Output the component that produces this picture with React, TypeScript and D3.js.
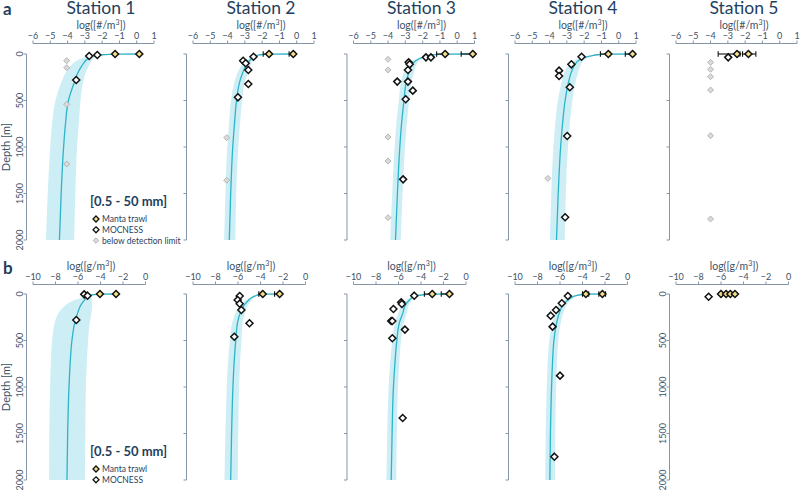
import React from "react";
import * as d3 from "d3";

const W = 800;
const H = 490;
const FONT = "Lato, 'Open Sans', sans-serif";
const NAVY = "#1f3f5e";
const AXIS = "#8496a8";
const TICKTXT = "#3c5268";
const BAND = "#cdeef5";
const LINE = "#2fb3c8";
const YELLOW = "#f4df8a";

const stationNames = ["Station 1", "Station 2", "Station 3", "Station 4", "Station 5"];
const depthTicks = [0, 500, 1000, 1500, 2000];
const countTicks = [-6, -5, -4, -3, -2, -1, 0, 1];
const massTicks = [-10, -8, -6, -4, -2, 0];

// Manta trawl: [station, log value, lower bar, upper bar]
const countManta: [number, number, number | null, number | null][] = [
  [0, 0.15, null, null], [0, -1.25, null, null],
  [1, -0.2, -0.44, -0.12], [1, -1.6, -1.94, -1.52],
  [2, 0.9, 0.23, 0.98], [2, -0.7, -1.19, -0.62],
  [3, 0.8, 0.38, 0.88], [3, -0.6, -1.06, -0.52],
  [4, -2.47, -3.56, -2.3], [4, -1.81, -2.15, -1.38],
];
// MOCNESS: [station, depth, log value]
const countMocness: [number, number, number][] = [
  [0, 11, -2.28], [0, 21, -2.75], [0, 280, -3.5],
  [1, 29, -2.5], [1, 72, -3.1], [1, 100, -2.95], [1, 172, -2.8], [1, 323, -2.8], [1, 466, -3.4],
  [2, 36, -1.81], [2, 36, -1.52], [2, 90, -2.81], [2, 111, -2.75], [2, 172, -2.85], [2, 297, -3.47],
  [2, 297, -2.85], [2, 394, -2.57], [2, 487, -2.98], [2, 1348, -3.13],
  [3, 29, -2.15], [3, 111, -2.74], [3, 179, -3.45], [3, 237, -3.45], [3, 358, -2.83], [3, 882, -2.98], [3, 1756, -3.1],
  [4, 36, -2.98],
];
// below detection limit: [station, depth, log value]
const countBelowDL: [number, number, number][] = [
  [0, 72, -4.05], [0, 147, -4.05], [0, 541, -4.05], [0, 1183, -4.05],
  [1, 900, -4.05], [1, 1358, -4.05],
  [2, 57, -4.0], [2, 172, -4.0], [2, 892, -4.0], [2, 1150, -4.0], [2, 1760, -4.0],
  [3, 1337, -4.1],
  [4, 90, -4.0], [4, 165, -4.0], [4, 244, -4.0], [4, 387, -4.0], [4, 878, -4.0], [4, 1774, -4.0],
];

const fitDepth = [0, 2, 8, 20, 40, 70, 120, 200, 300, 500, 750, 1000, 1500, 2000];
const countFitMean = [
  [0.15, -1.0, -2.0, -2.5, -2.75, -2.95, -3.15, -3.4, -3.6, -3.95, -4.12, -4.23, -4.37, -4.47],
  [-0.2, -1.4, -2.1, -2.38, -2.55, -2.72, -2.93, -3.12, -3.3, -3.48, -3.6, -3.7, -3.82, -3.9],
  [0.9, -0.5, -1.4, -1.75, -2.05, -2.38, -2.62, -2.8, -2.95, -3.08, -3.22, -3.32, -3.46, -3.57],
  [0.8, -0.6, -1.2, -1.6, -2.0, -2.32, -2.55, -2.75, -2.9, -3.1, -3.25, -3.36, -3.5, -3.6],
];
const countFitLo = [
  [0.15, -1.1, -2.2, -2.7, -3.1, -3.45, -3.8, -4.1, -4.35, -4.7, -4.9, -5.0, -5.15, -5.25],
  [-0.2, -1.45, -2.18, -2.48, -2.7, -2.92, -3.18, -3.42, -3.6, -3.8, -3.92, -4.02, -4.12, -4.2],
  [0.9, -0.55, -1.48, -1.85, -2.2, -2.58, -2.87, -3.1, -3.25, -3.38, -3.52, -3.62, -3.76, -3.88],
  [0.8, -0.65, -1.3, -1.75, -2.2, -2.6, -2.9, -3.15, -3.3, -3.52, -3.67, -3.78, -3.9, -3.98],
];
const countFitHi = [
  [0.15, -0.9, -1.85, -2.3, -2.45, -2.6, -2.75, -2.95, -3.1, -3.25, -3.35, -3.45, -3.55, -3.62],
  [-0.2, -1.35, -2.02, -2.28, -2.4, -2.52, -2.68, -2.82, -3.0, -3.16, -3.28, -3.38, -3.5, -3.55],
  [0.9, -0.45, -1.32, -1.65, -1.9, -2.18, -2.37, -2.5, -2.65, -2.78, -2.92, -3.02, -3.16, -3.27],
  [0.8, -0.55, -1.1, -1.45, -1.8, -2.04, -2.2, -2.35, -2.5, -2.68, -2.83, -2.94, -3.06, -3.12],
];

const massManta: [number, number, number | null, number | null][] = [
  [0, -2.62, null, null], [0, -4.05, null, null],
  [1, -3.8, -4.15, -3.72], [1, -2.3, -2.75, -2.22],
  [2, -3.0, -3.7, -2.9], [2, -1.47, -2.2, -1.38],
  [3, -3.7, -4.0, -3.45], [3, -2.23, -2.55, -1.95],
  [4, -6.0, null, null], [4, -5.55, null, null], [4, -5.17, null, null], [4, -4.76, null, null],
];
const massMocness: [number, number, number][] = [
  [0, 4, -5.45], [0, 18, -5.15], [0, 280, -6.15],
  [1, 21, -5.85], [1, 64, -6.03], [1, 104, -5.85], [1, 172, -5.7], [1, 315, -4.98], [1, 459, -6.33],
  [2, 18, -4.6], [2, 90, -5.76], [2, 108, -5.7], [2, 161, -6.45], [2, 290, -6.65], [2, 290, -6.55],
  [2, 383, -5.43], [2, 476, -6.55], [2, 1333, -5.63],
  [3, 21, -5.3], [3, 100, -5.84], [3, 172, -6.35], [3, 233, -6.83], [3, 351, -6.66], [3, 878, -6.0], [3, 1749, -6.5],
  [4, 29, -7.1],
];
const massFitMean = [
  [-2.62, -3.9, -4.7, -5.05, -5.25, -5.45, -5.75, -6.02, -6.27, -6.54, -6.7, -6.8, -6.92, -6.98],
  [-2.3, -3.5, -4.15, -4.45, -4.8, -5.08, -5.45, -5.78, -6.03, -6.2, -6.35, -6.45, -6.57, -6.65],
  [-1.47, -2.8, -3.8, -4.45, -4.8, -5.07, -5.4, -5.6, -5.9, -6.15, -6.32, -6.45, -6.57, -6.65],
  [-2.23, -3.4, -4.1, -4.65, -5.0, -5.35, -5.75, -6.05, -6.28, -6.54, -6.67, -6.75, -6.85, -6.9],
];
const massFitLo = [
  [-2.62, -4.0, -4.9, -5.3, -5.7, -6.4, -7.1, -7.7, -8.05, -8.3, -8.42, -8.48, -8.55, -8.57],
  [-2.3, -3.55, -4.25, -4.6, -5.0, -5.35, -5.8, -6.2, -6.5, -6.72, -6.9, -7.0, -7.12, -7.2],
  [-1.47, -2.85, -3.9, -4.6, -5.0, -5.32, -5.72, -5.98, -6.3, -6.55, -6.75, -6.88, -7.0, -7.08],
  [-2.23, -3.45, -4.2, -4.8, -5.22, -5.65, -6.1, -6.42, -6.66, -6.95, -7.1, -7.18, -7.27, -7.3],
];
const massFitHi = [
  [-2.62, -3.8, -4.5, -4.85, -4.8, -4.75, -4.75, -4.8, -4.95, -5.1, -5.22, -5.3, -5.35, -5.38],
  [-2.3, -3.45, -4.05, -4.3, -4.6, -4.82, -5.12, -5.38, -5.58, -5.7, -5.82, -5.9, -5.98, -6.02],
  [-1.47, -2.75, -3.7, -4.3, -4.6, -4.82, -5.1, -5.25, -5.52, -5.78, -5.93, -6.05, -6.15, -6.2],
  [-2.23, -3.35, -4.0, -4.5, -4.8, -5.08, -5.42, -5.7, -5.92, -6.15, -6.27, -6.35, -6.42, -6.45],
];

const panelLeft = [33, 193, 353.5, 515, 676];

function diamond(cx: number, cy: number, r: number) {
  return `M${cx},${cy - r}L${cx + r},${cy}L${cx},${cy + r}L${cx - r},${cy}Z`;
}

type Cfg = {
  row: "a" | "b";
  y0: number;
  y1: number;
  axisY: number;
  width: number;
  domain: [number, number];
  ticks: number[];
  unit: string;
  labelOffset: number;
  manta: [number, number, number | null, number | null][];
  mocness: [number, number, number][];
  below: [number, number, number][];
  mean: number[][];
  lo: number[][];
  hi: number[][];
};

function Panel({ cfg, i }: { cfg: Cfg; i: number }) {
  const left = panelLeft[i];
  const x = d3.scaleLinear().domain(cfg.domain).range([left, left + cfg.width]);
  const y = d3.scaleLinear().domain([0, 2000]).range([cfg.y0, cfg.y1]);
  const axisX = left - 6.5;
  const showYLabels = i === 0 || (cfg.row === "b" && i === 4);
  const hasFit = i < cfg.mean.length;
  const pts = hasFit
    ? fitDepth.map((d, k) => ({ d, m: cfg.mean[i][k], lo: cfg.lo[i][k], hi: cfg.hi[i][k] }))
    : [];
  const area = d3
    .area<any>()
    .y((p) => y(p.d))
    .x0((p) => x(p.lo))
    .x1((p) => x(p.hi))
    .curve(d3.curveMonotoneY);
  const line = d3
    .line<any>()
    .y((p) => y(p.d))
    .x((p) => x(p.m))
    .curve(d3.curveMonotoneY);
  const cx = left + cfg.labelOffset;
  return (
    <g>
      {cfg.row === "a" && (
        <text x={left + 68} y={14} textAnchor="middle" fontSize={17.5} fill={NAVY} fontFamily={FONT}>
          {stationNames[i]}
        </text>
      )}
      <text x={cx} y={cfg.axisY - 15} textAnchor="middle" fontSize={10.5} fill={TICKTXT} fontFamily={FONT}>
        {cfg.unit === "count" ? (
          <>
            log([#/m<tspan fontSize={7} dy={-4}>3</tspan>
            <tspan dy={4}>])</tspan>
          </>
        ) : (
          <>
            log([g/m<tspan fontSize={7} dy={-4}>3</tspan>
            <tspan dy={4}>])</tspan>
          </>
        )}
      </text>
      {/* x axis */}
      <line x1={x(cfg.domain[0])} x2={x(cfg.domain[1])} y1={cfg.axisY} y2={cfg.axisY} stroke={AXIS} strokeWidth={1} />
      {cfg.ticks.map((t) => (
        <g key={t}>
          <line x1={x(t)} x2={x(t)} y1={cfg.axisY} y2={cfg.axisY - 3} stroke={AXIS} strokeWidth={1} />
          <text x={x(t)} y={cfg.axisY - 5} textAnchor="middle" fontSize={9} fill={TICKTXT} fontFamily={FONT}>
            {t < 0 ? "\u2212" + Math.abs(t) : t}
          </text>
        </g>
      ))}
      {/* y axis */}
      <line x1={axisX} x2={axisX} y1={y(0)} y2={y(2000)} stroke={AXIS} strokeWidth={1} />
      {depthTicks.map((t) => (
        <g key={t}>
          <line x1={axisX - 3} x2={axisX} y1={y(t)} y2={y(t)} stroke={AXIS} strokeWidth={1} />
          {showYLabels && (
            <text
              transform={`translate(${axisX - 4},${y(t)}) rotate(-90)`}
              textAnchor="middle"
              fontSize={9}
              fill={TICKTXT}
              fontFamily={FONT}
            >
              {t}
            </text>
          )}
        </g>
      ))}
      {hasFit && <path d={area(pts) || ""} fill={BAND} stroke="none" />}
      {hasFit && <path d={line(pts) || ""} fill="none" stroke={LINE} strokeWidth={1.3} />}
      {cfg.manta
        .filter((m) => m[0] === i && m[2] !== null)
        .map((m, k) => {
          const yy = y(0);
          const xa = x(m[2] as number);
          const xb = x(m[3] as number);
          return (
            <g key={"e" + k} stroke="#111" strokeWidth={1.1}>
              <line x1={xa} x2={xb} y1={yy} y2={yy} />
              <line x1={xa} x2={xa} y1={yy - 2.8} y2={yy + 2.8} />
              <line x1={xb} x2={xb} y1={yy - 2.8} y2={yy + 2.8} />
            </g>
          );
        })}
      {cfg.below
        .filter((m) => m[0] === i)
        .map((m, k) => (
          <path key={"g" + k} d={diamond(x(m[2]), y(m[1]), 3)} fill="#dadada" stroke="#a8a8a8" strokeWidth={0.8} />
        ))}
      {cfg.mocness
        .filter((m) => m[0] === i)
        .map((m, k) => (
          <path key={"m" + k} d={diamond(x(m[2]), y(m[1]), 3.5)} fill="#fff" stroke="#111" strokeWidth={1.5} />
        ))}
      {cfg.manta
        .filter((m) => m[0] === i)
        .map((m, k) => (
          <path key={"t" + k} d={diamond(x(m[1]), y(0), 3.5)} fill={YELLOW} stroke="#111" strokeWidth={1.5} />
        ))}
    </g>
  );
}

function Legend({ x0, y0, below }: { x0: number; y0: number; below: boolean }) {
  const items = below
    ? [
        { label: "Manta trawl", kind: "manta" },
        { label: "MOCNESS", kind: "moc" },
        { label: "below detection limit", kind: "below" },
      ]
    : [
        { label: "Manta trawl", kind: "manta" },
        { label: "MOCNESS", kind: "moc" },
      ];
  return (
    <g fontFamily={FONT}>
      <text x={x0} y={y0} fontSize={13} fontWeight="bold" fill={NAVY}>
        [0.5 - 50 mm]
      </text>
      {items.map((it, k) => {
        const yy = y0 + 13 + k * 10.8;
        const mx = x0 + 6;
        return (
          <g key={it.label}>
            {it.kind === "manta" && <path d={diamond(mx, yy, 3)} fill={YELLOW} stroke="#111" strokeWidth={1.3} />}
            {it.kind === "moc" && <path d={diamond(mx, yy, 3)} fill="#fff" stroke="#111" strokeWidth={1.3} />}
            {it.kind === "below" && <path d={diamond(mx, yy, 2.8)} fill="#dadada" stroke="#a8a8a8" strokeWidth={0.8} />}
            <text x={x0 + 12} y={yy + 3} fontSize={8.5} fill={NAVY}>
              {it.label}
            </text>
          </g>
        );
      })}
    </g>
  );
}

export default function App() {
  const cfgA: Cfg = {
    row: "a",
    y0: 54,
    y1: 240,
    axisY: 43.5,
    width: 121,
    domain: [-6, 1],
    ticks: countTicks,
    unit: "count",
    labelOffset: 68,
    manta: countManta,
    mocness: countMocness,
    below: countBelowDL,
    mean: countFitMean,
    lo: countFitLo,
    hi: countFitHi,
  };
  const cfgB: Cfg = {
    row: "b",
    y0: 294,
    y1: 480,
    axisY: 284.5,
    width: 112.5,
    domain: [-10, 0],
    ticks: massTicks,
    unit: "mass",
    labelOffset: 58,
    manta: massManta,
    mocness: massMocness,
    below: [],
    mean: massFitMean,
    lo: massFitLo,
    hi: massFitHi,
  };
  return (
    <svg width={W} height={H} style={{ position: "absolute", left: 0, top: 0 }}>
      <rect width={W} height={H} fill="#fff" />
      <text x={3} y={15} fontSize={17} fontWeight="bold" fill={NAVY} fontFamily={FONT}>
        a
      </text>
      <text x={3} y={274} fontSize={17} fontWeight="bold" fill={NAVY} fontFamily={FONT}>
        b
      </text>
      <text transform="translate(10,147) rotate(-90)" textAnchor="middle" fontSize={11} fill={TICKTXT} fontFamily={FONT}>
        Depth [m]
      </text>
      <text transform="translate(10,387) rotate(-90)" textAnchor="middle" fontSize={11} fill={TICKTXT} fontFamily={FONT}>
        Depth [m]
      </text>
      {stationNames.map((_, i) => (
        <Panel key={"a" + i} cfg={cfgA} i={i} />
      ))}
      {stationNames.map((_, i) => (
        <Panel key={"b" + i} cfg={cfgB} i={i} />
      ))}
      <Legend x0={90} y0={206} below={true} />
      <Legend x0={90} y0={456} below={false} />
    </svg>
  );
}
